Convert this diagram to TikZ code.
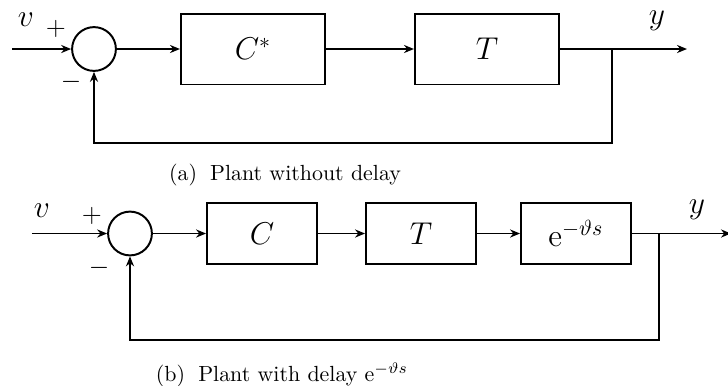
\documentclass[tikz,border=0pt]{standalone}
\usepackage{amsmath,amssymb}
\usepackage{tikz}
\usetikzlibrary{calc,arrows.meta,positioning}
\tikzset{
  ar/.style={-{Stealth[length=1.6mm,width=1.3mm]},line width=0.9pt},
  blk/.style={draw,line width=0.9pt,minimum width=65.8pt,minimum height=32.4pt,inner sep=0pt,font=\Large},
  blks/.style={draw,line width=0.9pt,minimum width=50.2pt,minimum height=27.9pt,inner sep=0pt,font=\Large},
  sumc/.style={circle,draw,line width=0.9pt,minimum size=20pt,inner sep=0pt},
  lbl/.style={font=\Large,inner sep=0pt},
  sgn/.style={font=\large,inner sep=0pt},
  capt/.style={font=\normalsize,inner sep=0pt}
}

\begin{document}
\begin{tikzpicture}[x=0.4566pt,y=-0.4566pt]
\useasboundingbox (0,0) rectangle (728,385);
% (a)
\coordinate (ina) at (12,49);
\node[sumc] (suma) at (94,49) {};
\node[blk] (Ca) at (253,49) {$C^*$};
\node[blk] (Ta) at (487,49) {$T$};
\coordinate (bra) at (612,49);
\coordinate (outa) at (687,49);
\node[lbl] (va) at (26,20) {$v$};
\node[sgn] (pa) at (56,29) {$+$};
\node[sgn] (ma) at (71,82) {$-$};
\node[lbl] (ya) at (657,21) {$y$};
\draw[ar] (ina) -- (suma.west);
\draw[ar] (suma.east) -- (Ca.west);
\draw[ar] (Ca.east) -- (Ta.west);
\draw[ar] (Ta.east) -- (outa);
\draw[ar] (bra) -- ++(0,94) -| (suma.south);
\node[capt] (capa) at (285,175) {(a)\hspace{6pt}Plant without delay};
% (b)
\coordinate (inb) at (32,233.5);
\node[sumc] (sumb) at (130,233.5) {};
\node[blks] (Cb) at (262,233.5) {$C$};
\node[blks] (Tb) at (421,233.5) {$T$};
\node[blks] (Eb) at (576,233.5) {$\mathrm{e}^{-\vartheta s}$};
\coordinate (brb) at (659,233.5);
\coordinate (outb) at (731,233.5);
\node[lbl] (vb) at (42,211) {$v$};
\node[sgn] (pb) at (92,216) {$+$};
\node[sgn] (mb) at (99,268) {$-$};
\node[lbl] (yb) at (697,210) {$y$};
\draw[ar] (inb) -- (sumb.west);
\draw[ar] (sumb.east) -- (Cb.west);
\draw[ar] (Cb.east) -- (Tb.west);
\draw[ar] (Tb.east) -- (Eb.west);
\draw[ar] (Eb.east) -- (outb);
\draw[ar] (brb) -- ++(0,106.5) -| (sumb.south);
\node[capt] (capb) at (282,375) {(b)\hspace{6pt}Plant with delay $\mathrm{e}^{-\vartheta s}$};
\end{tikzpicture}
\end{document}
